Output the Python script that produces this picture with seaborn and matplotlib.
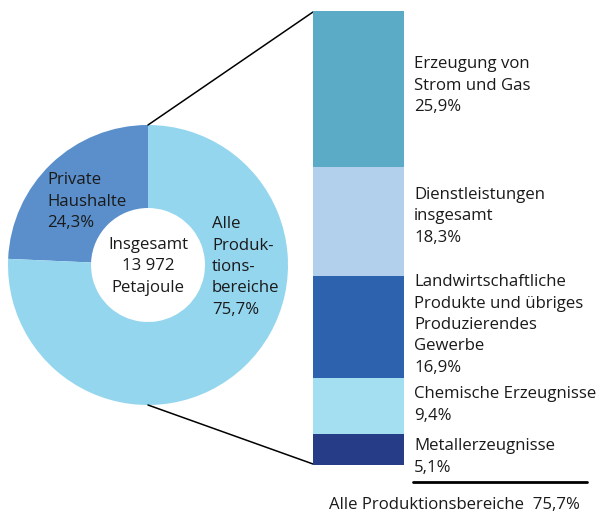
import matplotlib
matplotlib.use("Agg")
import matplotlib.pyplot as plt
import seaborn as sns
import pandas as pd

# ── Daten ────────────────────────────────────────────────────
pie_namen = ["Private\nHaushalte", "Alle\nProduk-\ntions-\nbereiche"]
pie_anteile = [24.3, 75.7]
pie_farben = ["#5A8FCB", "#95D6EF"]

bereich_namen = [
    "Erzeugung von\nStrom und Gas",
    "Dienstleistungen\ninsgesamt",
    "Landwirtschaftliche\nProdukte und übriges\nProduzierendes\nGewerbe",
    "Chemische Erzeugnisse",
    "Metallerzeugnisse",
]
bereich_anteile = [25.9, 18.3, 16.9, 9.4, 5.1]
bereich_farben = ["#5BABC6", "#B2D0EC", "#2C62AE", "#A4DEF1", "#273C87"]

gesamt_text = "Insgesamt\n13 972\nPetajoule"
summe_text = "Alle Produktionsbereiche  75,7%"


def fmt(v):
    return f"{v:.1f}".replace(".", ",") + "%"


# ── Style ────────────────────────────────────────────────────
sns.set_style("white")
plt.rcParams["font.family"] = ["Open Sans", "DejaVu Sans"]
FS = 12.1
LH = 21.5  # Zeilenabstand in Pixel

W, H = 604, 514
fig = plt.figure(figsize=(W / 100, H / 100), dpi=100)
ax = fig.add_axes([0, 0, 1, 1])


def zeilen(x, y, text, ha="left"):
    # y = Mitte der ersten Zeile, in Pixel von oben
    for i, z in enumerate(text.split("\n")):
        ax.text(x, H - (y + i * LH), z, ha=ha, va="center", fontsize=FS, color="#1a1a1a")


# ── Ring ─────────────────────────────────────────────────────
cx, cy, r = 148, 265, 140
ax.pie(pie_anteile, colors=pie_farben, startangle=90, counterclock=True,
       center=(cx, H - cy), radius=r,
       wedgeprops=dict(width=r - 57, linewidth=0, edgecolor="none"))
ax.set_xlim(0, W)
ax.set_ylim(0, H)
ax.axis("off")

zeilen(47, 180, pie_namen[0] + "\n" + fmt(pie_anteile[0]))
zeilen(212, 224, pie_namen[1] + "\n" + fmt(pie_anteile[1]))
zeilen(cx, 245, gesamt_text, ha="center")

# Verbindungslinien
ax.plot([cx, 313], [H - 125, H - 12], color="black", lw=1.1)
ax.plot([cx, 313], [H - 405, H - 464], color="black", lw=1.1)

# ── Gestapelter Balken ───────────────────────────────────────
df = pd.DataFrame({"bereich": bereich_namen, "anteil": bereich_anteile})
df["kum"] = df["anteil"][::-1].cumsum()[::-1]
df["gruppe"] = "Alle"

bx = fig.add_axes([313 / W, 1 - 465 / H, 91 / W, 454 / H])
sns.barplot(data=df, x="gruppe", y="kum", hue="bereich", hue_order=bereich_namen,
            palette=bereich_farben, dodge=False, width=1, saturation=1,
            linewidth=0, legend=False, ax=bx)
bx.set_xlim(-0.5, 0.5)
bx.set_ylim(0, df["anteil"].sum())
bx.axis("off")

label_y = [64, 195, 282, 394, 446]
for name, wert, y in zip(bereich_namen, bereich_anteile, label_y):
    zeilen(414, y, name + "\n" + fmt(wert))

ax.plot([413, 587], [H - 482, H - 482], color="black", lw=2)
ax.text(454, H - 505, summe_text, ha="center", va="center", fontsize=FS, color="#1a1a1a")

fig.savefig("out.png", dpi=100)
